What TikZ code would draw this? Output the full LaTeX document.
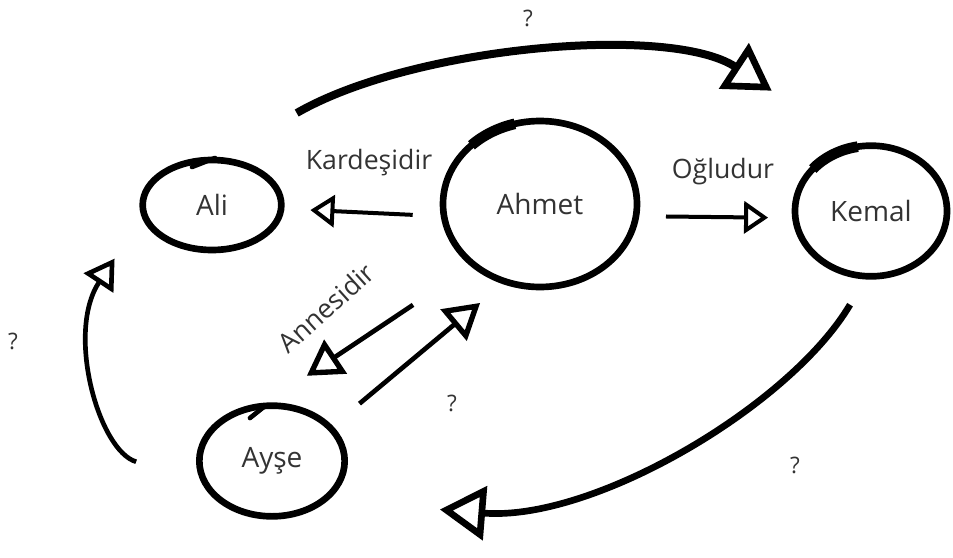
\documentclass[tikz,border=0pt]{standalone}
\usepackage{fontspec}
\setmainfont{Open Sans}
\usetikzlibrary{shapes.geometric,arrows.meta}
\definecolor{ink}{HTML}{333333}
\tikzset{
  person/.style={ellipse, draw=black, line width=5pt, inner sep=0pt, text=ink,
                 font=\fontsize{21}{24}\selectfont},
  lab/.style={text=ink, font=\fontsize{20}{24}\selectfont, inner sep=1pt},
  qm/.style={text=ink, font=\fontsize{17}{20}\selectfont, inner sep=1pt},
  thin link/.style={draw=black, line width=3pt,
                 -{Triangle[open, length=18pt, width=24pt, line width=3pt]}},
  mid link/.style={draw=black, line width=3.5pt,
                 -{Triangle[open, length=26pt, width=30pt, line width=4pt]}},
  curve link/.style={draw=black, line width=3.5pt,
                 -{Triangle[open, length=22pt, width=26pt, line width=3.5pt]}},
  big link/.style={draw=black, line width=#1,
                 -{Triangle[open, length=34pt, width=40pt, line width=5pt]}},
  accent/.style={draw=black, line width=8pt},
  hook/.style={draw=black, line width=3.5pt, line cap=round}
}
\begin{document}
\begin{tikzpicture}[x=0.75pt,y=-0.75pt]
\fill[white] (0,0) rectangle (953,557);
\useasboundingbox (0,0) rectangle (953,557);

% people
\node[person, minimum width=104pt, minimum height=67.5pt] (ali) at (212,205) {Ali};
\node[person, minimum width=145.5pt, minimum height=124.5pt] (ahmet) at (540,204) {Ahmet};
\node[person, minimum width=114pt, minimum height=98pt] (kemal) at (871,211) {Kemal};
\node[person, minimum width=109pt, minimum height=83pt] (ayse) at (272,461) {Ayşe};

% brush accents on the circles
\draw[accent] ([shift={(105:72.75pt and 62.25pt)}]ahmet.center)
  arc[start angle=105, end angle=135, x radius=72.75pt, y radius=62.25pt];
\draw[accent] ([shift={(100:57pt and 49pt)}]kemal.center)
  arc[start angle=100, end angle=140, x radius=57pt, y radius=49pt];
\draw[hook] ([shift={(3,-47)}]ali.center) -- ([shift={(-20,-38)}]ali.center);
\draw[hook] ([shift={(-7,-55)}]ayse.center) -- ([shift={(-22,-43)}]ayse.center);

% straight relations
\draw[thin link, shorten <=21pt, shorten >=19.5pt] (ahmet.187) -- (ali.-3);
\draw[thin link, shorten <=20pt, shorten >=18pt] (ahmet.-7) -- (kemal.185);
\draw[mid link, shorten <=52pt, shorten >=36pt] (ahmet.222) -- (ayse.95);
\draw[mid link, shorten <=26pt, shorten >=22pt] (ayse.30) -- (ahmet.245);

% curved relations
\draw[big link=6pt, shorten <=66pt, shorten >=73pt]
  (ali.80) .. controls (413,46) and (670,24) .. (kemal.105);
\draw[big link=5pt, shorten <=22pt, shorten >=84pt]
  (kemal.265) .. controls (790,406) and (593,522) .. (ayse.-35);
\draw[curve link, shorten <=50pt, shorten >=37pt]
  (ayse.195) .. controls (99,451) and (65.5,333) .. (ali.190);

% labels
\node[lab] (lkardes) at (369,163) {Kardeşidir};
\node[lab] (logul) at (723,172) {Oğludur};
\node[lab, rotate=42] (lanne) at (326,308) {Annesidir};
\node[qm] (q1) at (528,18) {?};
\node[qm] (q2) at (13,341) {?};
\node[qm] (q3) at (452,403) {?};
\node[qm] (q4) at (795,465) {?};
\end{tikzpicture}
\end{document}
